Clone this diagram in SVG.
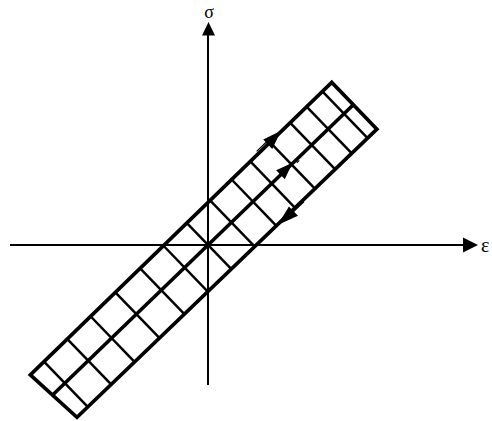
<svg xmlns="http://www.w3.org/2000/svg" width="492" height="421" viewBox="0 0 492 421">
<style>
.axis{stroke:#000;stroke-width:2;fill:none}
.edge{stroke:#000;stroke-width:3.6;fill:none;stroke-linejoin:miter}
.rung{stroke:#000;stroke-width:2.5;fill:none}
.thin{stroke:#000;stroke-width:1.2;fill:none}
.head{fill:#000;stroke:none}
.lbl{font-family:"Liberation Serif","DejaVu Serif",serif;fill:#000}
</style>
<rect width="492" height="421" fill="#fff"/>
<g id="connectors">
  <line class="axis" x1="208" y1="34" x2="208" y2="385"/>
  <polygon class="head" points="208.5,22 202,35.5 215,35.5"/>
  <line class="axis" x1="10" y1="245" x2="464" y2="245"/>
  <polygon class="head" points="478,245 463,237.5 463,252.5"/>
</g>
<g id="axis-labels">
  <text class="lbl" x="209" y="18" font-size="18" text-anchor="middle">σ</text>
  <text class="lbl" x="481" y="252" font-size="20">ε</text>
</g>
<g id="strip" transform="translate(208,245) rotate(-44)">
  <polygon class="edge" points="-218,-30 202,-31 202,34 -214,33"/>
  <line class="edge" x1="-216" y1="0" x2="202" y2="0"/>
  <g id="rungs">
    <line class="rung" x1="-199" y1="-30" x2="-199" y2="33"/>
    <line class="rung" x1="-166.5" y1="-30" x2="-166.5" y2="33"/>
    <line class="rung" x1="-134" y1="-30" x2="-134" y2="33"/>
    <line class="rung" x1="-99.5" y1="-30" x2="-99.5" y2="33"/>
    <line class="rung" x1="-65" y1="-30" x2="-65" y2="33"/>
    <line class="rung" x1="-32.5" y1="-30" x2="-32.5" y2="33"/>
    <line class="rung" x1="0" y1="-30" x2="0" y2="33"/>
    <line class="rung" x1="32.5" y1="-30" x2="32.5" y2="33"/>
    <line class="rung" x1="62.5" y1="-30" x2="62.5" y2="33"/>
    <line class="rung" x1="88.5" y1="-30" x2="88.5" y2="33"/>
    <line class="rung" x1="116" y1="-30" x2="116" y2="33"/>
    <line class="rung" x1="144" y1="-30" x2="144" y2="33"/>
    <line class="rung" x1="167" y1="-30" x2="167" y2="33"/>
    <line class="rung" x1="189" y1="-30" x2="189" y2="33"/>
  </g>
  <g id="arrow-upper">
    <line class="thin" x1="100" y1="-33.5" x2="115" y2="-33.5"/>
    <polygon class="head" points="132,-31.5 113,-37.5 113,-24.5"/>
  </g>
  <g id="arrow-center">
    <polygon class="head" points="118,-0.5 101,-6.5 101,6"/>
    <line class="thin" x1="121" y1="2.5" x2="124.5" y2="2.5"/>
  </g>
  <g id="arrow-lower">
    <line class="thin" x1="84" y1="35.5" x2="99" y2="35.5"/>
    <polygon class="head" points="64,34 85,28.5 85,41.5"/>
  </g>
</g>
</svg>
